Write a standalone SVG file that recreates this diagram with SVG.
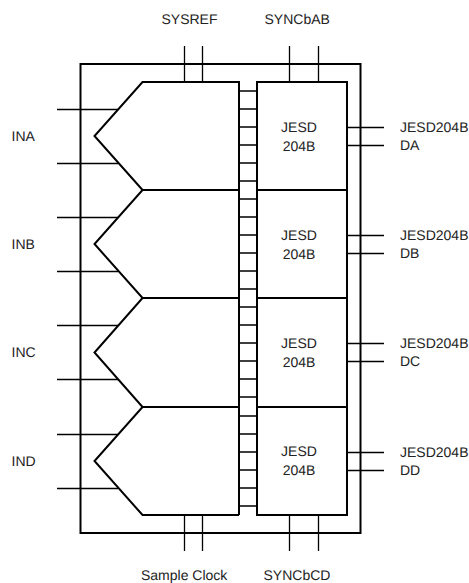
<svg xmlns="http://www.w3.org/2000/svg" width="469" height="583" viewBox="0 0 469 583">
<style>
text{font-family:"Liberation Sans",Arial,sans-serif;font-size:14px;fill:#222;text-rendering:geometricPrecision}
.m{text-anchor:middle}
.t{fill:none;stroke:#000;stroke-width:1.3}
.k{fill:none;stroke:#000;stroke-width:2}
</style>
<rect width="469" height="583" fill="#fff"/>
<g id="connectors">
<path class="t" d="M57 109.500H118M57 163.500H118M57 217.500H118M57 271.500H118M57 325.500H118M57 379.500H118M57 434.500H118M57 488.500H118"/>
<path class="t" d="M184.500 46V82M202.500 46V82M289.500 46V82M318.500 46V82M184.500 515V551M202.500 515V551M289.500 515V551M318.500 515V551"/>
<path class="t" d="M347 127.500H384M347 145.500H384M347 235.500H384M347 253.500H384M347 343.500H384M347 361.500H384M347 452.500H384M347 470.500H384"/>
<path class="t" d="M239 91H257M239 109H257M239 127H257M239 145H257M239 163H257M239 181H257M239 199H257M239 217H257M239 235H257M239 253H257M239 271H257M239 289H257M239 307H257M239 325H257M239 343H257M239 361H257M239 379H257M239 397H257M239 416H257M239 434H257M239 452H257M239 470H257M239 488H257M239 506H257"/>
</g>
<g id="device"><rect class="k" x="80.500" y="64" width="280" height="469"/></g>
<g id="adc-a"><path class="k" d="M239 190V82H142.500L94.500 136L142.500 190H239"/></g>
<g id="adc-b"><path class="k" d="M239 298V190H142.500L94.500 244L142.500 298H239"/></g>
<g id="adc-c"><path class="k" d="M239 407V298H142.500L94.500 352.500L142.500 407H239"/></g>
<g id="adc-d"><path class="k" d="M239 515V407H142.500L94.500 461L142.500 515H239"/></g>
<g id="jesd-a"><rect class="k" x="257" y="82" width="90" height="108"/><text class="m" x="299" y="132">JESD</text><text class="m" x="299" y="151">204B</text></g>
<g id="jesd-b"><rect class="k" x="257" y="190" width="90" height="108"/><text class="m" x="299" y="240">JESD</text><text class="m" x="299" y="259">204B</text></g>
<g id="jesd-c"><rect class="k" x="257" y="298" width="90" height="109"/><text class="m" x="299" y="348">JESD</text><text class="m" x="299" y="367">204B</text></g>
<g id="jesd-d"><rect class="k" x="257" y="407" width="90" height="108"/><text class="m" x="299" y="456">JESD</text><text class="m" x="299" y="475">204B</text></g>
<g id="labels">
<text x="161.500" y="24">SYSREF</text><text x="264.500" y="24">SYNCbAB</text>
<text x="141" y="580">Sample Clock</text><text x="263.500" y="580">SYNCbCD</text>
<text x="11.500" y="141">INA</text><text x="11.500" y="249">INB</text><text x="11.500" y="357">INC</text><text x="11.500" y="466">IND</text>
<text x="400" y="132">JESD204B</text><text x="400" y="150">DA</text>
<text x="400" y="240">JESD204B</text><text x="400" y="258">DB</text>
<text x="400" y="348">JESD204B</text><text x="400" y="366">DC</text>
<text x="400" y="457">JESD204B</text><text x="400" y="475">DD</text>
</g>
</svg>
